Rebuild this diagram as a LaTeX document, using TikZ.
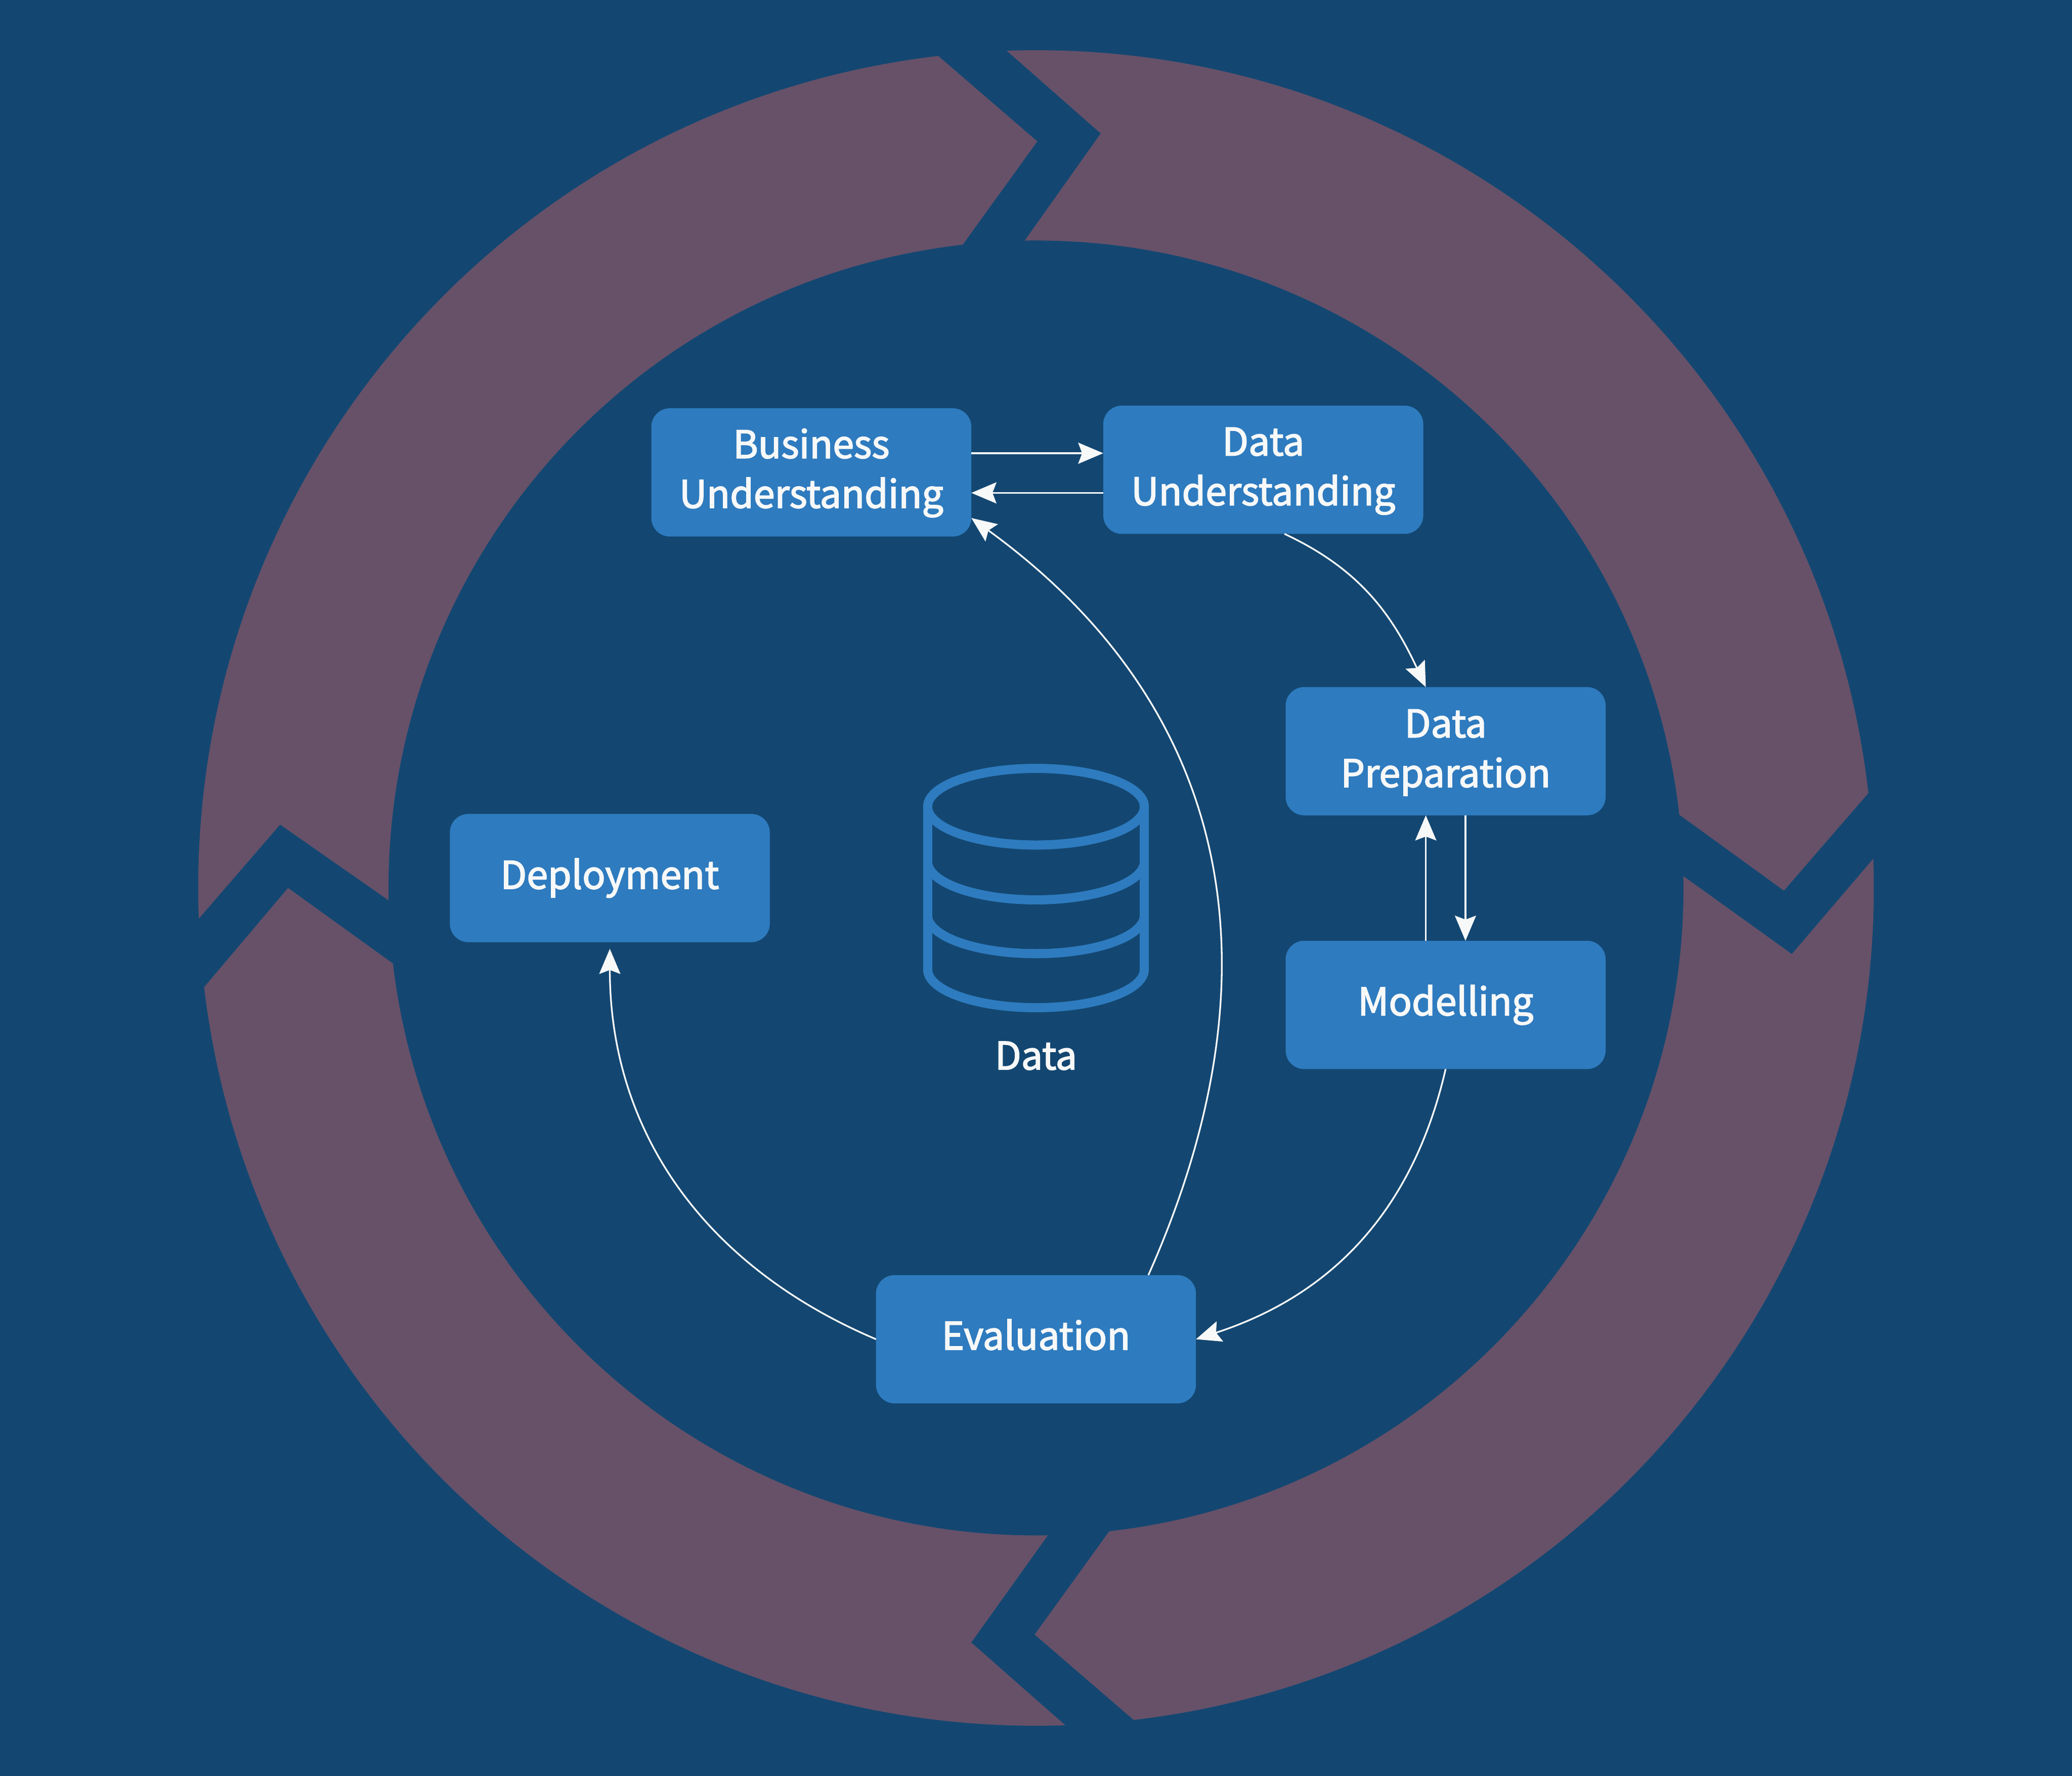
\documentclass[tikz,border=0pt]{standalone}
\usepackage{fontspec}
\setmainfont{Noto Sans CJK SC}[FakeBold=2.4]
\usetikzlibrary{arrows.meta,positioning}
\definecolor{figBg}{RGB}{19,71,113}
\definecolor{figSeg}{RGB}{102,81,105}
\definecolor{figBox}{RGB}{46,123,191}
\definecolor{figTxt}{RGB}{247,248,248}
\newcommand{\topline}{\rule{0pt}{6.6pt}}
\tikzset{
  stagebox/.style={fill=figBox,rounded corners=1.4mm,minimum width=2.42cm,minimum height=0.97cm,
    inner sep=0pt,outer sep=0pt,align=center,text=figTxt,font=\fontsize{8.2}{10.7}\selectfont},
  flow/.style={-{Stealth[length=1.9mm,width=1.6mm,inset=0.3mm]},figTxt,line width=0.36pt},
  seg/.style={fill=figSeg},
  drum/.style={figBox,line width=0.69mm}
}
\begin{document}
\begin{tikzpicture}[x=0.01cm,y=0.01cm]
\fill[figBg] (-784,-672) rectangle (784,672);
\useasboundingbox (-784,-672) rectangle (784,672);
\fill[seg] (92:634) arc[start angle=92,end angle=6.5,radius=634] -- (566,-2) -- (6.5:490)
  arc[start angle=6.5,end angle=91,radius=490] -- (49,571) -- cycle;     % top right
\fill[seg] (96.7:634) arc[start angle=96.7,end angle=182.1,radius=634] -- (-572,48) -- (181.1:490)
  arc[start angle=181.1,end angle=96.5,radius=490] -- (1,565) -- cycle; % top left
\fill[seg] (186.8:634) arc[start angle=186.8,end angle=272,radius=634] -- (-49,-571) -- (271.05:490)
  arc[start angle=271.05,end angle=186.7,radius=490] -- (-566,0) -- cycle; % bottom left
\fill[seg] (276.7:634) arc[start angle=276.7,end angle=362,radius=634] -- (572,-50) -- (361.05:490)
  arc[start angle=361.05,end angle=276.5,radius=490] -- (-1,-565) -- cycle; % bottom right
\node[stagebox] (bu) at (-170,314.5) {\topline Business\\Understanding};
\node[stagebox] (du) at (172,316.5) {\topline Data\\Understanding};
\node[stagebox] (dp) at (310,103.5) {\topline Data\\Preparation};
\node[stagebox] (mo) at (310,-88.5) {Modelling};
\node[stagebox] (ev) at (0,-341.5) {Evaluation\vphantom{g}};
\node[stagebox] (de) at (-322.5,7.5) {Deployment};
\draw[drum] (0,61.5) ellipse[x radius=82,y radius=29];
\draw[drum] (-82,61.5) -- (-82,-61.6) arc[start angle=180,end angle=360,x radius=82,y radius=29] -- (82,61.5);
\draw[drum] (-82,20) arc[start angle=180,end angle=360,x radius=82,y radius=29];
\draw[drum] (-82,-20.7) arc[start angle=180,end angle=360,x radius=82,y radius=29];
\node[text=figTxt,font=\fontsize{8.2}{10.7}\selectfont,inner sep=0pt] (datalabel) at (0,-127) {Data};
\draw[flow] ([yshift=1.45mm]bu.east) -- ([yshift=1.45mm]bu.east -| du.west);
\draw[flow] ([yshift=-1.75mm]du.west) -- ([yshift=-1.75mm]du.west -| bu.east);
\draw[flow] ([xshift=0.16cm]du.south) to[out=-25,in=115] ([xshift=-0.15cm]dp.north);
\draw[flow] ([xshift=-0.15cm]mo.north) -- ([xshift=-0.15cm]dp.south);
\draw[flow] ([xshift=0.15cm]dp.south) -- ([xshift=0.15cm]mo.north);
\draw[flow] (mo.south) to[out=-103,in=18] (ev.east);
\draw[flow] ([xshift=0.85cm]ev.north) to[out=66,in=-36,looseness=1.08] ([yshift=-0.345cm]bu.east);
\draw[flow] (ev.west) to[out=157,in=-90] ([yshift=-0.05cm]de.south);
\end{tikzpicture}
\end{document}
